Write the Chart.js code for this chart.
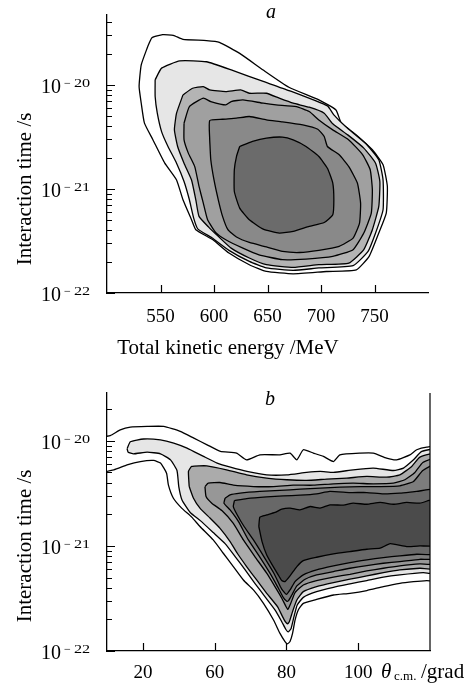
<!DOCTYPE html>
<html>
<head>
<meta charset="utf-8">
<script src="https://cdn.jsdelivr.net/npm/chart.js@4.4.1/dist/chart.umd.min.js"></script>
<style>
  body { margin: 0; background: #fff; }
  canvas { position: absolute; left: 0; }
  #chartA { top: 0; }
  #chartB { top: 362px; }
</style>
</head>
<body>
<canvas id="chartA" width="472" height="362"></canvas>
<canvas id="chartB" width="472" height="322"></canvas>
<script>
// ---- panel a: interaction time vs total kinetic energy (contours, outer -> inner)
const energyA1 = [538, 542, 552, 562, 571, 593, 605, 624, 646, 670, 698, 714, 719, 733, 748, 758, 762, 761, 754, 745, 733, 705, 674, 649, 633, 614, 599, 583, 579, 571, 565, 554, 543, 535, 532, 530, 532];
const timeA1 = [2.33e-20, 2.84e-20, 3.04e-20, 3.00e-20, 2.74e-20, 2.67e-20, 2.57e-20, 2.01e-20, 1.39e-20, 9.5e-21, 7.18e-21, 5.75e-21, 4.29e-21, 3.31e-21, 2.38e-21, 1.71e-21, 1.06e-21, 5.86e-22, 3.77e-22, 2.25e-22, 1.67e-22, 1.61e-22, 1.53e-22, 1.61e-22, 1.87e-22, 2.42e-22, 3.25e-22, 4.06e-22, 5.06e-22, 7.87e-22, 1.22e-21, 1.77e-21, 2.96e-21, 4.29e-21, 6.67e-21, 9.64e-21, 1.56e-20];

const energyA2 = [545, 551, 568, 593, 618, 646, 670, 706, 712, 723, 742, 754, 758, 758, 751, 744, 730, 698, 674, 649, 633, 614, 598, 585, 581, 577, 572, 565, 557, 551, 547, 545];
const timeA2 = [1.12e-20, 1.45e-20, 1.70e-20, 1.67e-20, 1.37e-20, 1.08e-20, 8.83e-21, 6.28e-21, 5.15e-21, 3.98e-21, 2.72e-21, 1.91e-21, 1.22e-21, 6.31e-22, 3.77e-22, 2.51e-22, 1.83e-22, 1.74e-22, 1.65e-22, 1.74e-22, 2.01e-22, 2.57e-22, 3.40e-22, 4.11e-22, 5.25e-22, 7.87e-22, 1.18e-21, 1.77e-21, 2.56e-21, 3.56e-21, 5.35e-21, 7.73e-21];

const energyA3 = [571, 580, 590, 596, 611, 625, 633, 649, 661, 674, 689, 703, 711, 725, 740, 751, 755, 754, 748, 740, 726, 698, 674, 649, 633, 616, 604, 595, 586, 583, 579, 572, 566, 563, 565];
const timeA3 = [8.02e-21, 9.29e-21, 9.64e-21, 8.95e-21, 8.63e-21, 8.95e-21, 8.32e-21, 8.32e-21, 7.45e-21, 6.67e-21, 6.11e-21, 5.35e-21, 4.23e-21, 3.31e-21, 2.47e-21, 1.77e-21, 1.18e-21, 6.79e-22, 4.06e-22, 2.61e-22, 1.94e-22, 1.87e-22, 1.76e-22, 1.87e-22, 2.17e-22, 2.70e-22, 3.50e-22, 4.30e-22, 5.45e-22, 7.87e-22, 1.22e-21, 1.77e-21, 2.56e-21, 3.70e-21, 5.35e-21];

const energyA4 = [572, 577, 590, 597, 611, 616, 627, 646, 658, 677, 689, 698, 711, 726, 739, 746, 748, 747, 740, 730, 711, 686, 664, 642, 627, 611, 602, 594, 590, 586, 582, 576, 572];
const timeA4 = [4.29e-21, 6.19e-21, 7.45e-21, 6.92e-21, 6.43e-21, 6.92e-21, 7.18e-21, 6.67e-21, 6.43e-21, 6.19e-21, 5.55e-21, 4.61e-21, 3.70e-21, 2.96e-21, 2.13e-21, 1.53e-21, 9.82e-22, 5.86e-22, 3.77e-22, 2.61e-22, 2.25e-22, 2.12e-22, 2.09e-22, 2.33e-22, 2.70e-22, 3.25e-22, 3.77e-22, 5.06e-22, 7.31e-22, 1.06e-21, 1.64e-21, 2.21e-21, 2.96e-21];

const energyA5 = [596, 596, 608, 621, 633, 649, 664, 683, 697, 703, 706, 717, 726, 734, 737, 736, 730, 717, 698, 680, 664, 649, 633, 621, 613, 608, 604, 600, 597];
const timeA5 = [2.96e-21, 4.55e-21, 4.68e-21, 4.79e-21, 4.97e-21, 4.61e-21, 4.42e-21, 4.13e-21, 3.75e-21, 3.19e-21, 2.56e-21, 2.13e-21, 1.64e-21, 1.14e-21, 7.31e-22, 4.70e-22, 3.37e-22, 2.81e-22, 2.57e-22, 2.45e-22, 2.51e-22, 2.77e-22, 3.06e-22, 3.45e-22, 4.06e-22, 5.45e-22, 7.87e-22, 1.22e-21, 1.91e-21];

const energyA6 = [624, 636, 649, 664, 674, 686, 698, 706, 711, 712, 711, 703, 689, 674, 661, 646, 633, 624, 619, 619, 621];
const timeA6 = [2.56e-21, 2.86e-21, 3.08e-21, 3.15e-21, 2.96e-21, 2.56e-21, 2.05e-21, 1.58e-21, 1.14e-21, 7.87e-22, 5.65e-22, 4.76e-22, 4.37e-22, 3.91e-22, 3.77e-22, 4.11e-22, 5.06e-22, 6.55e-22, 9.46e-22, 1.53e-21, 2.05e-21];

// ---- panel b: interaction time vs c.m. angle (contours, outer -> inner)
const angleB1 = [28.0, 30.9, 33.7, 36.5, 41.2, 45.8, 50.4, 54.2, 57.9, 61.6, 66.1, 68.9, 72.6, 78.2, 81.0, 82.9, 84.7, 87.5, 90.3, 93.1, 94.9, 100.5, 104.2, 107.9, 110.7, 114.4, 116.3, 119.1, 122.0, 122.0, 119.1, 115.4, 111.6, 107.0, 102.4, 97.7, 93.1, 88.4, 84.7, 83.3, 82.4, 81.7, 81.0, 80.3, 79.6, 78.2, 76.4, 73.6, 70.8, 68.0, 65.2, 62.4, 59.6, 55.9, 53.6, 50.8, 48.5, 47.1, 46.6, 44.9, 43.0, 39.3, 35.6, 31.9, 28.0];
const timeB1 = [1.08e-20, 1.12e-20, 1.27e-20, 1.35e-20, 1.37e-20, 1.37e-20, 1.23e-20, 1.06e-20, 9.16e-21, 7.92e-21, 7.64e-21, 6.59e-21, 7.36e-21, 7.36e-21, 7.64e-21, 6.59e-21, 8.22e-21, 7.64e-21, 7.10e-21, 6.35e-21, 7.36e-21, 7.64e-21, 7.64e-21, 6.84e-21, 6.59e-21, 7.36e-21, 8.22e-21, 8.71e-21, 8.71e-21, 4.68e-22, 4.68e-22, 4.57e-22, 4.41e-22, 4.10e-22, 3.76e-22, 3.54e-22, 3.41e-22, 3.10e-22, 2.84e-22, 2.46e-22, 1.97e-22, 1.47e-22, 1.23e-22, 1.17e-22, 1.23e-22, 1.47e-22, 1.97e-22, 2.84e-22, 3.81e-22, 4.74e-22, 6.36e-22, 8.51e-22, 1.14e-21, 1.53e-21, 1.88e-21, 2.29e-21, 2.84e-21, 3.81e-21, 4.92e-21, 6.14e-21, 6.50e-21, 6.35e-21, 5.91e-21, 5.30e-21, 5.11e-21];

const angleB2 = [35.6, 36.5, 40.2, 44.9, 48.6, 52.3, 56.9, 60.7, 64.4, 69.0, 74.5, 80.1, 85.6, 89.4, 93.1, 98.6, 104.2, 109.8, 112.6, 115.4, 117.7, 122.0, 122.0, 118.1, 111.6, 107.0, 102.4, 97.7, 93.1, 88.4, 84.7, 83.0, 82.1, 81.3, 80.5, 79.8, 78.7, 76.8, 74.0, 71.2, 68.5, 65.7, 62.9, 59.6, 56.0, 53.2, 50.9, 50.0, 49.5, 47.7, 44.9, 41.2, 37.4, 35.9];
const timeB2 = [8.40e-21, 9.79e-21, 1.04e-20, 1.02e-20, 9.51e-21, 8.51e-21, 7.10e-21, 6.14e-21, 5.61e-21, 5.11e-21, 4.74e-21, 4.74e-21, 5.00e-21, 5.11e-21, 5.00e-21, 5.30e-21, 5.50e-21, 5.22e-21, 5.50e-21, 6.59e-21, 7.92e-21, 8.22e-21, 5.50e-22, 5.57e-22, 5.30e-22, 5.04e-22, 4.68e-22, 4.35e-22, 4.04e-22, 3.67e-22, 3.24e-22, 2.74e-22, 2.12e-22, 1.64e-22, 1.52e-22, 1.61e-22, 1.90e-22, 2.46e-22, 3.29e-22, 4.41e-22, 5.91e-22, 7.92e-22, 1.05e-21, 1.34e-21, 1.74e-21, 2.08e-21, 2.74e-21, 3.67e-21, 5.22e-21, 6.59e-21, 7.52e-21, 7.80e-21, 7.52e-21, 7.80e-21];

const angleB3 = [52.9, 52.7, 53.6, 57.8, 63.3, 68.9, 74.5, 80.1, 85.6, 91.2, 96.8, 102.4, 107.9, 111.6, 114.9, 117.2, 122.0, 122.0, 117.2, 111.6, 107.0, 102.4, 97.7, 93.1, 88.4, 84.7, 82.9, 81.7, 80.8, 80.3, 79.3, 77.5, 74.5, 71.7, 68.9, 66.3, 64.3, 61.5, 58.7, 55.9, 54.1];
const timeB3 = [3.67e-21, 5.11e-21, 5.70e-21, 5.78e-21, 5.30e-21, 4.74e-21, 4.42e-21, 4.26e-21, 4.20e-21, 4.32e-21, 4.42e-21, 4.58e-21, 4.51e-21, 4.74e-21, 5.70e-21, 7.00e-21, 7.52e-21, 6.13e-22, 6.13e-22, 5.91e-22, 5.57e-22, 5.18e-22, 4.82e-22, 4.48e-22, 4.10e-22, 3.67e-22, 3.06e-22, 2.37e-22, 1.90e-22, 1.81e-22, 2.00e-22, 2.64e-22, 3.54e-22, 4.74e-22, 6.36e-22, 8.51e-22, 1.10e-21, 1.47e-21, 1.84e-21, 2.29e-21, 2.84e-21];

const angleB4 = [57.3, 58.2, 61.5, 65.2, 70.8, 76.4, 81.9, 87.5, 93.1, 98.6, 104.2, 109.8, 113.0, 115.8, 118.0, 122.0, 122.0, 117.2, 111.6, 107.0, 102.4, 97.7, 93.1, 88.4, 84.7, 82.4, 81.2, 80.4, 79.9, 78.7, 76.8, 74.5, 71.2, 68.0, 65.2, 62.0, 59.2, 57.6];
const timeB4 = [3.67e-21, 3.95e-21, 4.01e-21, 3.78e-21, 3.67e-21, 3.67e-21, 3.78e-21, 3.78e-21, 3.90e-21, 3.95e-21, 3.90e-21, 3.95e-21, 4.26e-21, 5.00e-21, 6.22e-21, 6.84e-21, 6.84e-22, 6.74e-22, 6.45e-22, 6.13e-22, 5.78e-22, 5.37e-22, 5.04e-22, 4.68e-22, 4.25e-22, 3.60e-22, 2.84e-22, 2.49e-22, 2.64e-22, 3.18e-22, 4.10e-22, 5.50e-22, 7.92e-22, 1.14e-21, 1.64e-21, 2.17e-21, 2.55e-21, 2.95e-21];

const angleB5 = [62.9, 64.3, 67.1, 72.6, 78.2, 83.8, 89.4, 94.9, 100.5, 106.1, 111.6, 115.4, 118.0, 122.0, 122.0, 117.2, 111.6, 107.0, 102.4, 97.7, 93.1, 88.4, 85.2, 82.9, 81.5, 80.6, 80.1, 79.1, 77.5, 75.4, 72.5, 69.4, 66.6, 64.3, 62.6];
const timeB5 = [2.84e-21, 3.06e-21, 3.18e-21, 3.30e-21, 3.37e-21, 3.47e-21, 3.54e-21, 3.62e-21, 3.67e-21, 3.67e-21, 3.73e-21, 4.10e-21, 5.22e-21, 6.04e-21, 7.64e-22, 7.46e-22, 7.10e-22, 6.84e-22, 6.50e-22, 6.13e-22, 5.70e-22, 5.30e-22, 4.82e-22, 4.16e-22, 3.41e-22, 3.02e-22, 2.97e-22, 3.24e-22, 4.10e-22, 5.50e-22, 7.92e-22, 1.14e-21, 1.71e-21, 2.20e-21, 2.55e-21];

const angleB6 = [65.5, 68.9, 74.5, 79.1, 83.8, 88.4, 92.1, 97.7, 102.4, 107.0, 111.6, 116.3, 122.0, 122.0, 116.3, 111.6, 107.0, 102.4, 97.7, 93.1, 88.4, 84.7, 82.4, 81.0, 80.0, 79.0, 78.4, 76.5, 73.7, 70.8, 68.2, 66.3, 65.2];
const timeB6 = [2.70e-21, 2.82e-21, 2.93e-21, 2.99e-21, 3.04e-21, 3.13e-21, 3.30e-21, 3.22e-21, 3.22e-21, 3.13e-21, 3.18e-21, 3.30e-21, 3.42e-21, 8.51e-22, 8.33e-22, 8.04e-22, 7.74e-22, 7.36e-22, 6.94e-22, 6.45e-22, 5.91e-22, 5.30e-22, 4.57e-22, 3.81e-22, 3.45e-22, 3.75e-22, 4.04e-22, 5.50e-22, 7.92e-22, 1.14e-21, 1.53e-21, 1.97e-21, 2.37e-21];

const angleB7 = [72.3, 72.6, 74.5, 76.8, 78.7, 81.0, 83.8, 86.6, 89.4, 92.1, 95.9, 98.6, 102.4, 106.1, 109.8, 113.5, 117.2, 122.0, 122.0, 117.2, 113.5, 108.9, 106.1, 102.4, 97.7, 93.1, 88.4, 84.7, 82.9, 81.0, 79.6, 78.7, 77.7, 76.2, 74.5, 73.2];
const timeB7 = [1.53e-21, 1.88e-21, 1.97e-21, 2.08e-21, 2.24e-21, 2.29e-21, 2.20e-21, 2.37e-21, 2.29e-21, 2.46e-21, 2.44e-21, 2.55e-21, 2.49e-21, 2.59e-21, 2.49e-21, 2.59e-21, 2.55e-21, 2.79e-21, 1.02e-21, 1.00e-21, 9.86e-22, 1.05e-21, 9.51e-22, 9.29e-22, 8.83e-22, 8.39e-22, 7.80e-22, 7.25e-22, 6.36e-22, 5.18e-22, 4.57e-22, 4.68e-22, 5.30e-22, 6.45e-22, 8.20e-22, 1.10e-21];

// ---- ticks
const energyTicks = [550, 600, 650, 700, 750];
const energyTickLabels = ['550', '600', '650', '700', '750'];
const angleTicks = [40, 60, 80, 100];
const angleTickLabels = ['20', '60', '80', '100'];

const fillsA = ['#ffffff', '#e6e6e6', '#b4b4b4', '#a0a0a0', '#898989', '#6b6b6b'];
const fillsB = ['#ffffff', '#e6e6e6', '#ababab', '#979797', '#7d7d7d', '#686868', '#4b4b4b'];

const serif = "'Liberation Serif', 'Times New Roman', serif";

function contour(xs, ys, color, order) {
  const points = xs.map((x, i) => ({ x, y: ys[i] }));
  points.push(points[0]);
  return {
    data: points,
    showLine: true,
    fill: 'shape',
    backgroundColor: color,
    borderColor: '#000',
    borderWidth: 1.3,
    pointRadius: 0,
    tension: 0.15,
    order,
    clip: 0
  };
}

function logTicks(scale) {
  const ticks = [];
  for (let e = -22; e <= -20; e++) {
    for (let m = 1; m <= 9; m++) {
      const v = m * Math.pow(10, e);
      if (v >= scale.min * 0.999 && v <= scale.max) ticks.push({ value: v, major: m === 1 });
    }
  }
  scale.ticks = ticks;
}

function decorations(cfg) {
  return {
    id: 'decorations',
    afterDraw(chart) {
      const { ctx, chartArea: area, scales: { x, y } } = chart;
      ctx.save();
      ctx.strokeStyle = '#000';
      ctx.lineWidth = 1.2;
      ctx.beginPath();
      x.ticks.forEach(t => {
        const px = Math.round(x.getPixelForValue(t.value)) + 0.5;
        ctx.moveTo(px, area.bottom);
        ctx.lineTo(px, area.bottom - 8);
      });
      y.ticks.forEach(t => {
        const py = Math.round(y.getPixelForValue(t.value)) + 0.5;
        ctx.moveTo(area.left, py);
        ctx.lineTo(area.left + (t.major ? 8 : 5), py);
      });
      if (cfg.rightBorder) {
        ctx.moveTo(area.right, area.top);
        ctx.lineTo(area.right, area.bottom);
      }
      ctx.stroke();

      ctx.fillStyle = '#000';
      ctx.textBaseline = 'alphabetic';

      // x tick labels
      ctx.font = `19px ${serif}`;
      ctx.textAlign = 'center';
      x.ticks.forEach((t, i) => {
        ctx.fillText(cfg.xLabels[i], x.getPixelForValue(t.value), area.bottom + cfg.xLabelDy);
      });

      // y tick labels 10^-n
      ctx.textAlign = 'left';
      y.ticks.filter(t => t.major).forEach(t => {
        const py = y.getPixelForValue(t.value);
        const exp = Math.round(-Math.log10(t.value));
        ctx.font = `20px ${serif}`;
        ctx.fillText('10', 41, py + 8);
        ctx.font = `12px ${serif}`;
        ctx.fillText('\u2212', 64, py + 2);
        ctx.save();
        ctx.translate(74, py + 2);
        ctx.scale(1.35, 1);
        ctx.fillText(String(exp), 0, 0);
        ctx.restore();
      });

      // y title
      ctx.save();
      ctx.translate(31, y.getPixelForValue(1e-21));
      ctx.rotate(-Math.PI / 2);
      ctx.textAlign = 'center';
      ctx.font = `21px ${serif}`;
      ctx.fillText('Interaction time /s', 0, 0);
      ctx.restore();

      // panel letter
      ctx.textAlign = 'center';
      ctx.font = `italic 20px ${serif}`;
      ctx.fillText(cfg.letter, cfg.letterX, area.top + cfg.letterDy);

      cfg.xTitle(ctx, area);
      ctx.restore();
    }
  };
}

function baseOptions(xOpts, yMax, padding, xHeight) {
  return {
    responsive: false,
    animation: false,
    events: [],
    layout: { padding },
    plugins: { legend: { display: false }, tooltip: { enabled: false } },
    scales: {
      x: Object.assign({
        type: 'linear',
        grid: { display: false },
        border: { color: '#000', width: 1.3 },
        ticks: { display: false },
        afterFit: s => { s.height = xHeight; }
      }, xOpts),
      y: {
        type: 'logarithmic',
        min: 1e-22,
        max: yMax,
        afterBuildTicks: logTicks,
        grid: { display: false },
        border: { color: '#000', width: 1.3 },
        ticks: { display: false },
        afterFit: s => { s.width = 107; }
      }
    }
  };
}

const contoursA = [[energyA1, timeA1], [energyA2, timeA2], [energyA3, timeA3], [energyA4, timeA4], [energyA5, timeA5], [energyA6, timeA6]];
const contoursB = [[angleB1, timeB1], [angleB2, timeB2], [angleB3, timeB3], [angleB4, timeB4], [angleB5, timeB5], [angleB6, timeB6], [angleB7, timeB7]];

new Chart(document.getElementById('chartA'), {
  type: 'scatter',
  data: {
    datasets: contoursA.map(([xs, ys], i) => contour(xs, ys, fillsA[i], contoursA.length - i))
  },
  options: baseOptions({
    min: 500, max: 800,
    afterBuildTicks: s => { s.ticks = energyTicks.map(v => ({ value: v })); }
  }, 4.7e-20, { top: 15, right: 44, left: 0, bottom: 0 }, 69),
  plugins: [decorations({
    letter: 'a', letterX: 271, letterDy: 3,
    xLabels: energyTickLabels, xLabelDy: 28.5,
    rightBorder: false,
    xTitle: (ctx, area) => {
      ctx.font = `21px ${serif}`;
      ctx.textAlign = 'center';
      ctx.fillText('Total kinetic energy /MeV', 228, area.bottom + 61);
    }
  })]
});

new Chart(document.getElementById('chartB'), {
  type: 'scatter',
  data: {
    datasets: contoursB.map(([xs, ys], i) => contour(xs, ys, fillsB[i], contoursB.length - i))
  },
  options: baseOptions({
    min: 30, max: 120,
    afterBuildTicks: s => { s.ticks = angleTicks.map(v => ({ value: v })); }
  }, 2.85e-20, { top: 31, right: 42, left: 0, bottom: 0 }, 33),
  plugins: [decorations({
    letter: 'b', letterX: 270, letterDy: 12,
    xLabels: angleTickLabels, xLabelDy: 27,
    rightBorder: true,
    xTitle: (ctx, area) => {
      const base = area.bottom + 27;
      ctx.textAlign = 'left';
      ctx.font = `italic 21px ${serif}`;
      ctx.fillText('\u03b8', 381, base);
      ctx.font = `13px ${serif}`;
      ctx.fillText('c.m.', 394, base + 2);
      ctx.font = `21px ${serif}`;
      ctx.fillText('/grad', 421, base);
    }
  })]
});
</script>
</body>
</html>
